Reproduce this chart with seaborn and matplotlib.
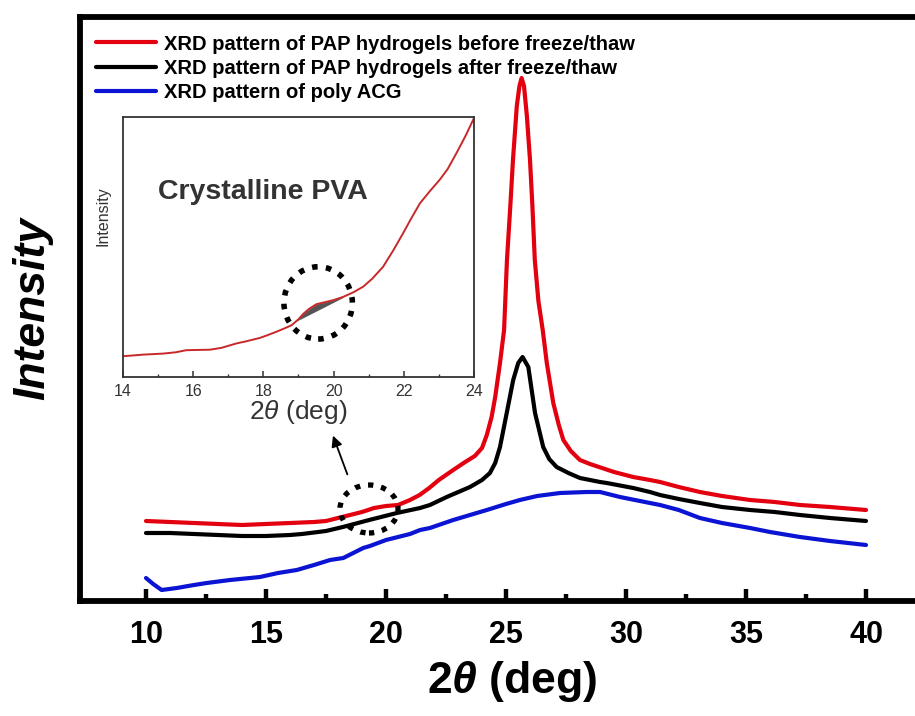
import numpy as np
import pandas as pd
import matplotlib
matplotlib.use("Agg")
import matplotlib.pyplot as plt
from matplotlib.patches import Ellipse
from matplotlib.ticker import FixedLocator, MultipleLocator
import seaborn as sns

# ---------------- data (arbitrary intensity units) ----------------
labels = ["XRD pattern of PAP hydrogels before freeze/thaw",
          "XRD pattern of PAP hydrogels after freeze/thaw",
          "XRD pattern of poly ACG"]

before_x = [10.0, 11.0, 12.0, 13.0, 14.0, 15.0, 16.0, 17.0, 17.5, 18.0, 18.5, 19.0, 19.5, 20.0,
            20.5, 21.0, 21.4, 21.8, 22.2, 22.8, 23.3, 23.7, 24.0, 24.2, 24.4, 24.55, 24.75, 24.92,
            25.04, 25.18, 25.29, 25.45, 25.56, 25.65, 25.75, 25.87, 26.0, 26.1, 26.2, 26.35, 26.53,
            26.7, 26.97, 27.2, 27.39, 27.7, 28.08, 28.5, 29.0, 29.5, 30.3, 31.0, 31.42,
            32.2, 33.08, 34.0, 35.17, 36.2, 37.25, 38.5, 40.0]
before_y = [80, 79, 78, 77, 76, 77, 78, 79, 80, 83, 86, 89, 93, 95,
            96, 101, 106, 113, 121, 131, 139, 145, 153, 166, 184, 204, 238, 271,
            341, 395, 441, 495, 515, 523, 515, 485, 441, 395, 341, 300, 271,
            238, 198, 176, 161, 150, 141, 137, 133, 129, 124, 121, 119,
            114, 109, 105, 101, 99, 96, 94, 91]

after_x = [10.0, 11.0, 12.0, 13.0, 14.0, 15.0, 16.0, 16.5, 17.5, 18.2, 19.3, 20.45, 21.42, 21.83,
           22.53, 23.5, 24.0, 24.33, 24.55, 24.75, 25.03, 25.3, 25.51, 25.69, 25.93, 26.21, 26.55,
           26.8, 27.11, 27.6, 28.08, 28.92, 29.2, 30.3, 31.0, 31.42, 32.2, 33.08, 34.0, 35.17,
           36.2, 37.25, 38.5, 40.0]
after_y = [68, 68, 67, 66, 65, 65, 66, 67, 70, 74, 81, 88, 93, 96,
           104, 114, 121, 128, 138, 154, 188, 221, 238, 244, 234, 188, 154,
           142, 134, 128, 123, 119, 118, 113, 109, 106, 102, 98, 94, 91,
           89, 86, 83, 80]

acg_x = [10.0, 10.3, 10.65, 11.28, 12.0, 12.53, 13.5, 14.75, 15.5, 16.28, 17.0, 17.67, 18.22,
         19.05, 19.33, 20.0, 21.0, 21.42, 21.83, 22.8, 23.5, 24.2, 25.0, 25.58, 26.3, 27.25,
         28.36, 28.92, 29.75, 31.0, 31.42, 32.2, 33.08, 34.0, 35.17, 36.0, 37.25, 38.5, 40.0]
acg_y = [23, 17, 11, 13, 16, 18, 21, 24, 28, 31, 36, 41, 43,
         53, 55, 61, 67, 71, 73, 81, 86, 91, 97, 101, 105, 108,
         109, 109, 104, 98, 96, 91, 83, 78, 73, 69, 64, 60, 56]

inset_x = [14.0, 14.3, 14.57, 15.14, 15.5, 15.8, 16.1, 16.47, 16.8, 17.23, 17.5, 17.89, 18.1,
           18.37, 18.6, 18.8, 19.0, 19.13, 19.3, 19.51, 19.79, 20.0, 20.27, 20.55, 20.84, 21.1,
           21.41, 21.7, 21.98, 22.2, 22.46, 22.75, 23.02, 23.25, 23.5, 23.75, 24.0]
inset_y = [0.080, 0.083, 0.086, 0.090, 0.095, 0.103, 0.104, 0.105, 0.112, 0.129, 0.137, 0.150,
           0.160, 0.174, 0.187, 0.199, 0.222, 0.242, 0.262, 0.280, 0.289, 0.296, 0.308, 0.325,
           0.347, 0.378, 0.424, 0.487, 0.553, 0.607, 0.668, 0.716, 0.758, 0.800, 0.861, 0.925,
           0.996]
# straight baseline under the PVA bump (x, y of its ends)
base_x = [18.9, 20.27]
base_y = [0.212, 0.306]

main_xticks = [10, 15, 20, 25, 30, 35, 40]
main_minor = [12.5, 17.5, 22.5, 27.5, 32.5, 37.5]
inset_xticks = [14, 16, 18, 20, 22, 24]

# ---------------- style ----------------
sns.set_theme(style="white")
plt.rcParams["font.family"] = ["Liberation Sans", "DejaVu Sans"]
plt.rcParams.update({
    "mathtext.fontset": "custom",
    "mathtext.rm": "Liberation Sans",
    "mathtext.it": "Liberation Sans:italic",
    "mathtext.bf": "Liberation Sans:bold",
    "mathtext.bfit": "Liberation Sans:bold:italic",
    "xtick.bottom": True,
    "xtick.minor.bottom": True,
    "text.color": "black",
    "axes.labelcolor": "black",
    "xtick.color": "black",
    "xtick.labelcolor": "black",
})

W, H = 915, 716
fig = plt.figure(figsize=(W / 100, H / 100), dpi=100)
fig.patch.set_facecolor("white")

# main axes: left 80px, top 17px, bottom 601px, extends to right edge
ax = fig.add_axes([80 / W, 1 - 601 / H, (W - 80) / W, (601 - 17) / H])

df = pd.concat([
    pd.DataFrame({"x": before_x, "y": before_y, "s": labels[0]}),
    pd.DataFrame({"x": after_x, "y": after_y, "s": labels[1]}),
    pd.DataFrame({"x": acg_x, "y": acg_y, "s": labels[2]}),
])
palette = {labels[0]: "#E3000F", labels[1]: "#000000", labels[2]: "#0A14D2"}
sns.lineplot(data=df, x="x", y="y", hue="s", palette=palette, sort=False,
             estimator=None, linewidth=3.0, ax=ax, legend=True)

ax.set_xlim(7.25, 7.25 + (W - 80) / 24)
ax.set_ylim(0, 584)
ax.xaxis.set_major_locator(FixedLocator(main_xticks))
ax.xaxis.set_minor_locator(FixedLocator(main_minor))
ax.set_yticks([])
for s in ["left", "top", "bottom"]:
    ax.spines[s].set_linewidth(4.2)
    ax.spines[s].set_color("black")
ax.spines["right"].set_visible(False)
ax.tick_params(axis="x", which="major", direction="in", length=9, width=3.2,
               color="black", labelcolor="black", pad=14, labelsize=22, bottom=True)
ax.tick_params(axis="x", which="minor", direction="in", length=5, width=3.2, color="black",
               bottom=True)
for t in ax.get_xticklabels():
    t.set_fontweight("bold")

ax.set_xlabel(r"2$\mathbfit{\theta}$ (deg)", fontsize=32, fontweight="bold", color="black")
ax.xaxis.set_label_coords((512 - 80) / (W - 80), -58 / 584)
ax.set_ylabel("Intensity", fontsize=32, fontweight="bold", fontstyle="italic", color="black")
ax.yaxis.set_label_coords(-27 / (W - 80), 0.5)

handles, labs = ax.get_legend_handles_labels()
leg = ax.legend(handles, labs, loc="upper left", bbox_to_anchor=(0.019, 0.970),
                frameon=False, fontsize=14.5, handlelength=3.0, handletextpad=0.4,
                labelspacing=0.26, borderpad=0, borderaxespad=0, labelcolor="black")
for t in leg.get_texts():
    t.set_fontweight("bold")
for l in leg.get_lines():
    l.set_linewidth(3.0)

# dotted circle + arrow in main plot
ax.add_patch(Ellipse((19.29, 92), width=2.42, height=48, fill=False, edgecolor="black",
                     linewidth=3.8, linestyle=(0, (1, 1.5)), zorder=5))
ax.annotate("", xy=(17.75, 168), xytext=(18.43, 124),
            arrowprops=dict(arrowstyle="-|>", color="black", lw=1.3, mutation_scale=16))

# ---------------- inset ----------------
axi = fig.add_axes([123 / W, 1 - 377 / H, (474 - 123) / W, (377 - 117) / H])
axi.set_facecolor("white")
sns.lineplot(x=inset_x, y=inset_y, color="#C8282A", linewidth=1.4, ax=axi, sort=False,
             estimator=None)
xi = np.array(inset_x)
yi = np.array(inset_y)
xf = np.linspace(base_x[0], base_x[1], 60)
yc = np.interp(xf, xi, yi)
yb = np.interp(xf, base_x, base_y)
axi.fill_between(xf, yb, np.maximum(yc, yb), color="#555555", linewidth=0, zorder=1)
axi.add_patch(Ellipse((19.56, 0.285), width=1.95, height=0.278, fill=False, edgecolor="black",
                      linewidth=4.0, linestyle=(0, (1, 1.5)), zorder=5))
axi.set_xlim(14, 24)
axi.set_ylim(0, 1)
axi.xaxis.set_major_locator(FixedLocator(inset_xticks))
axi.xaxis.set_minor_locator(MultipleLocator(1))
axi.set_yticks([])
for s in axi.spines.values():
    s.set_linewidth(1.3)
    s.set_color("#333333")
axi.tick_params(axis="x", which="major", direction="in", length=4, width=1.1,
                color="#333333", labelsize=11.5, labelcolor="#333333", pad=5, bottom=True)
axi.tick_params(axis="x", which="minor", direction="in", length=2.5, width=1.0,
                color="#333333", bottom=True)
axi.set_xlabel(r"2$\theta$ (deg)", fontsize=19, color="#333333", labelpad=-1)
axi.set_ylabel("Intensity", fontsize=11.5, color="#333333")
axi.yaxis.set_label_coords(-0.035, 0.62)
axi.text(0.10, 0.71, "Crystalline PVA", transform=axi.transAxes, fontsize=20.5,
         fontweight="bold", color="#333333", va="center", ha="left")

fig.savefig("out.png", dpi=100, facecolor="white")
